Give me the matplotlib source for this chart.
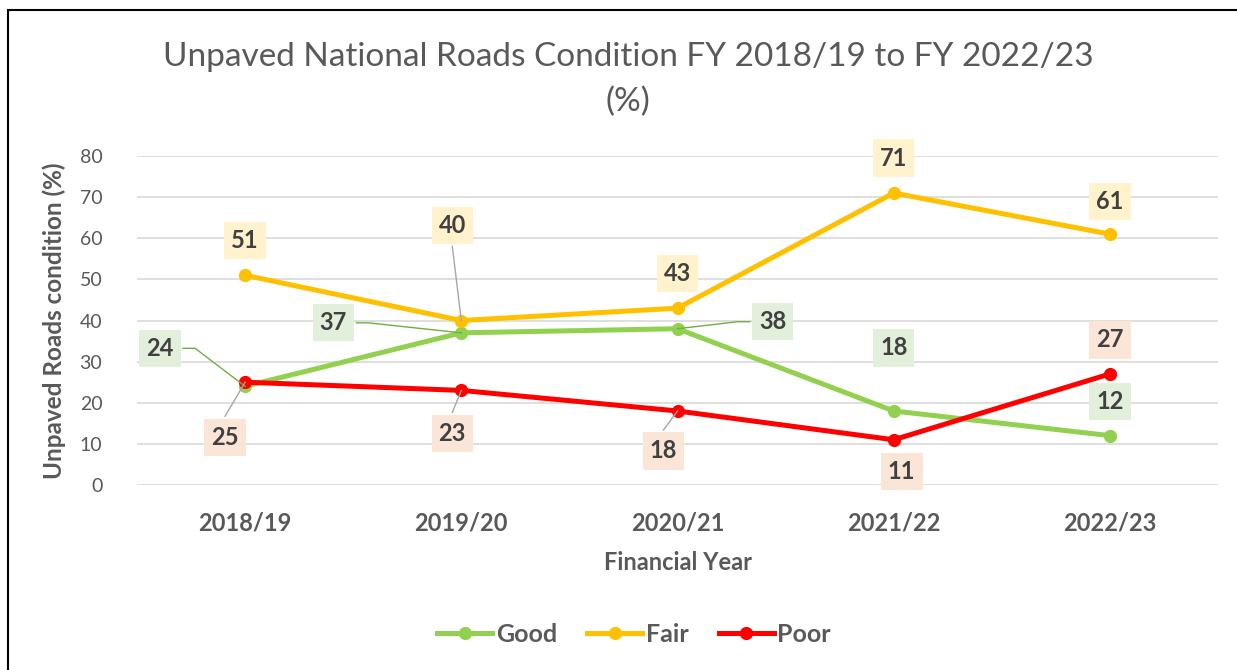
import matplotlib
matplotlib.use("Agg")
import matplotlib.pyplot as plt
from matplotlib.lines import Line2D
from matplotlib.patches import Rectangle

plt.rcParams["font.family"] = ["Lato", "DejaVu Sans"]

YEARS = ["2018/19", "2019/20", "2020/21", "2021/22", "2022/23"]
GOOD = [24, 37, 38, 18, 12]
FAIR = [51, 40, 43, 71, 61]
POOR = [25, 23, 18, 11, 27]

SERIES = [
    ("Good", GOOD, "#92D050", "#E2EFDA"),
    ("Fair", FAIR, "#FFC000", "#FFF2CC"),
    ("Poor", POOR, "#FF0000", "#FBE5D6"),
]

# label offsets in pixels (dx, dy) from each point, plus leader style
OFFSETS = {
    "Good": [(-85, 38), (-128, 10), (95, 7), (0, 63), (0, 34)],
    "Fair": [(0, 35), (-9, 95), (0, 35), (0, 35), (0, 33)],
    "Poor": [(-20, -55), (-9, -43), (-14, -40), (8, -32), (0, 34)],
}
LEADERS = {
    ("Good", 0): "elbow", ("Good", 1): "elbow", ("Good", 2): "elbow",
    ("Fair", 1): "straight",
    ("Poor", 0): "straight", ("Poor", 1): "straight", ("Poor", 2): "straight",
}

TEXT = "#595959"
LABEL_TEXT = "#404040"

fig = plt.figure(figsize=(12.37, 6.70), dpi=100)
ax = fig.add_axes([137 / 1237, 1 - 485 / 670, (1218 - 137) / 1237, (485 - 156) / 670])

# outer chart border (only left/top visible in the crop)
fig.patches.append(Rectangle((8 / 1237, -0.1), 1.2, 1 - 10 / 670 + 0.1,
                             transform=fig.transFigure, fill=False,
                             edgecolor="black", linewidth=1.5))

x = list(range(len(YEARS)))
for name, vals, color, _ in SERIES:
    ax.plot(x, vals, color=color, linewidth=3.6, marker="o", markersize=8.5,
            label=name, solid_capstyle="round", zorder=3)

ax.set_xlim(-0.5, len(YEARS) - 0.5)
ax.set_ylim(0, 80)
ax.set_yticks(range(0, 81, 10))
ax.set_xticks(x)
ax.set_xticklabels(YEARS, fontsize=17, fontweight="bold", color=TEXT)
ax.tick_params(axis="y", labelsize=14, labelcolor=TEXT, length=0, pad=25)
ax.tick_params(axis="x", length=0, pad=19)
ax.grid(axis="y", color="#D9D9D9", linewidth=1.2)
ax.set_axisbelow(True)
for s in ax.spines.values():
    s.set_visible(False)

ax.set_xlabel("Financial Year", fontsize=17, fontweight="bold", color=TEXT, labelpad=12)
ax.set_ylabel("Unpaved Roads condition (%)", fontsize=17.5, fontweight="bold",
              color=TEXT)
ax.yaxis.set_label_coords((66 - 137) / (1218 - 137), 0.5)

fig.text(628 / 1237, 1 - 57 / 670, "Unpaved National Roads Condition FY 2018/19 to FY 2022/23",
         ha="center", va="center", fontsize=24, color=TEXT)
fig.text(628 / 1237, 1 - 102 / 670, "(%)", ha="center", va="center",
         fontsize=24, color=TEXT)

# data labels and leader lines (in pixel space)
fig.canvas.draw()
for name, vals, color, bg in SERIES:
    for i, v in enumerate(vals):
        dx, dy = OFFSETS[name][i]
        px, py = ax.transData.transform((i, v))
        lx, ly = px + dx, py + dy
        kind = LEADERS.get((name, i))
        if kind == "elbow":
            side = 1 if dx < 0 else -1
            ex = lx + side * 23
            xs = [ex, ex + side * 12, px]
            ys = [ly, ly, py]
            fig.add_artist(Line2D(xs, ys, transform=None, color="#70AD47",
                                  linewidth=1.0, zorder=4))
        elif kind == "straight":
            sy = ly - 21 if dy > 0 else ly + 21
            fig.add_artist(Line2D([lx, px], [sy, py], transform=None,
                                  color="#A6A6A6", linewidth=1.0, zorder=4))
        fig.text(lx, ly, str(v), transform=None, ha="center", va="center",
                 fontsize=17, fontweight="bold", color=LABEL_TEXT, zorder=5,
                 bbox=dict(boxstyle="square,pad=0.3", facecolor=bg, edgecolor="none"))

handles = [Line2D([0], [0], color=c, linewidth=3.6, marker="o", markersize=8.5)
           for _, _, c, _ in SERIES]
leg = fig.legend(handles, [s[0] for s in SERIES], loc="center", ncol=3,
                 bbox_to_anchor=(634 / 1237, 1 - 634 / 670), frameon=False,
                 handlelength=2.2, handletextpad=0.15, columnspacing=1.2,
                 prop={"size": 18, "weight": "bold"})
for t in leg.get_texts():
    t.set_color(TEXT)

fig.savefig("out.png", dpi=100)
